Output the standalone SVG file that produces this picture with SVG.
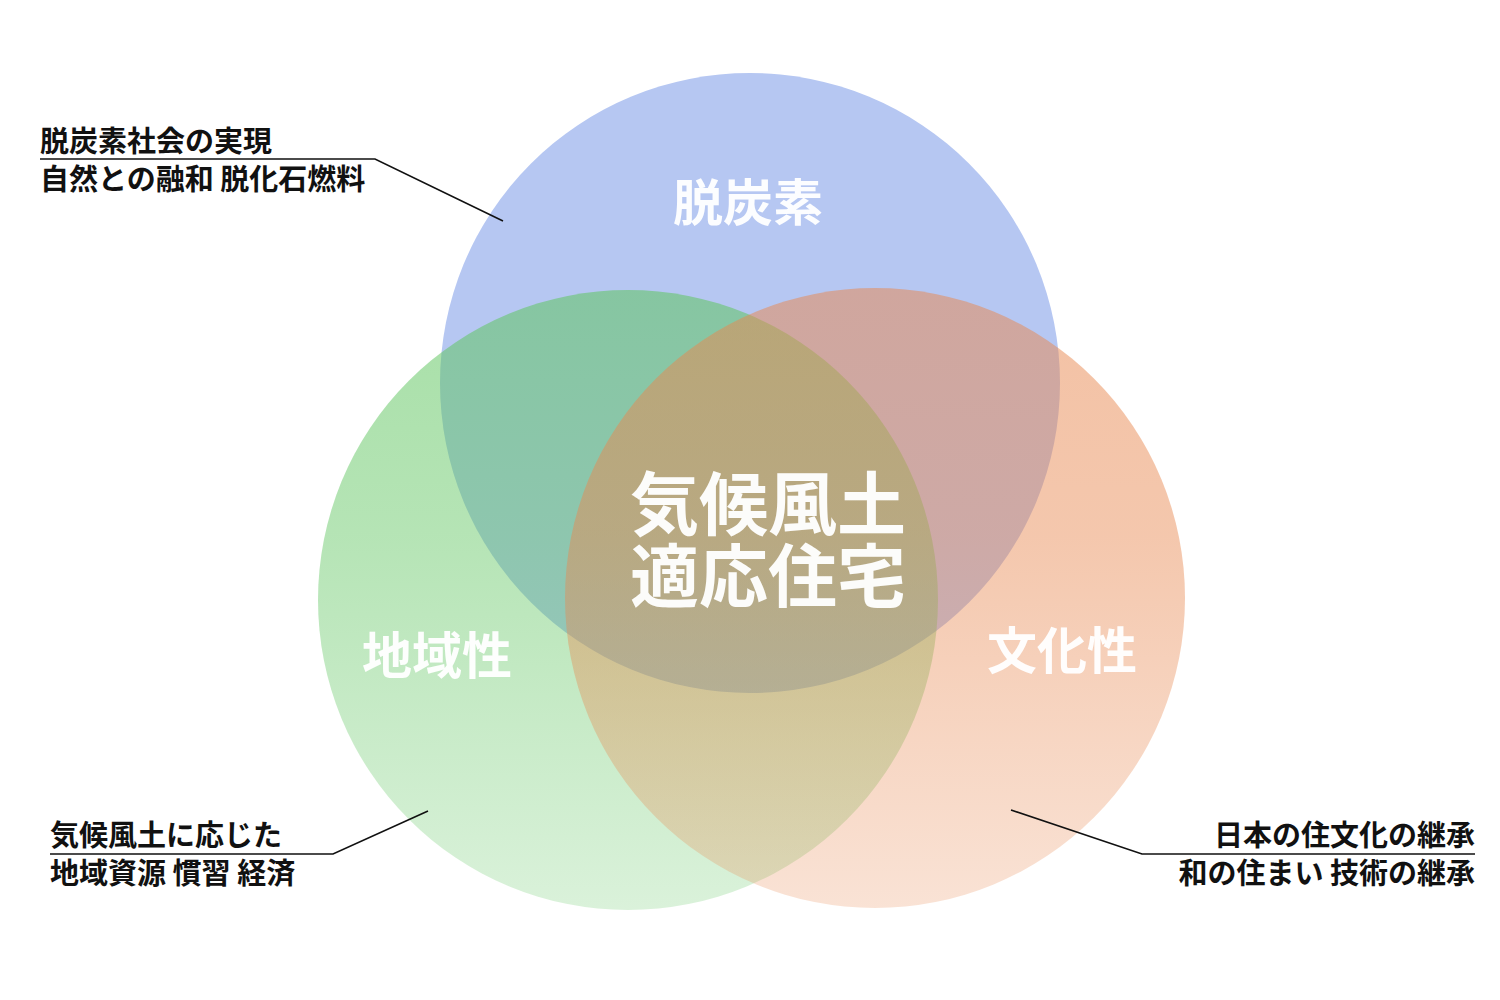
<svg xmlns="http://www.w3.org/2000/svg" width="1500" height="1000" viewBox="0 0 1500 1000">
  <defs>
    <linearGradient id="gGreen" x1="0" y1="0" x2="0" y2="1">
      <stop offset="0" stop-color="#5fc55f" stop-opacity="0.55"/>
      <stop offset="0.4" stop-color="#5fc55f" stop-opacity="0.46"/>
      <stop offset="1" stop-color="#5fc55f" stop-opacity="0.23"/>
    </linearGradient>
    <linearGradient id="gOrange" x1="0" y1="0" x2="0" y2="1">
      <stop offset="0" stop-color="#e88850" stop-opacity="0.52"/>
      <stop offset="0.4" stop-color="#e88850" stop-opacity="0.47"/>
      <stop offset="1" stop-color="#e88850" stop-opacity="0.24"/>
    </linearGradient>
    <style>
      .lbl { font-family: "Noto Sans CJK JP", "Noto Sans", sans-serif; font-weight: 700; fill: #ffffff; fill-opacity: 0.96; }
      .note { font-family: "Noto Sans CJK JP", "Noto Sans", sans-serif; font-weight: 700; font-size: 29px; fill: #111111; }
      .lead { fill: none; stroke: #111111; stroke-width: 1.6; }
    </style>
  </defs>
  <rect width="1500" height="1000" fill="#ffffff"/>

  <g id="circle-decarbonization">
    <circle cx="750" cy="383" r="310" fill="#b6c7f2"/>
  </g>
  <g id="circle-regionality">
    <circle cx="628" cy="600" r="310" fill="url(#gGreen)"/>
  </g>
  <g id="circle-culture">
    <circle cx="875" cy="598" r="310" fill="url(#gOrange)"/>
  </g>

  <g id="label-decarbonization">
    <text class="lbl" x="748" y="221" font-size="50" text-anchor="middle">脱炭素</text>
  </g>
  <g id="label-regionality">
    <text class="lbl" x="437" y="674" font-size="50" text-anchor="middle">地域性</text>
  </g>
  <g id="label-culture">
    <text class="lbl" x="1062" y="669" font-size="50" text-anchor="middle">文化性</text>
  </g>
  <g id="label-center">
    <text class="lbl" font-size="69" text-anchor="middle"><tspan x="768" y="530">気候風土</tspan><tspan x="768" y="602">適応住宅</tspan></text>
  </g>

  <g id="connectors">
    <polyline class="lead" points="40,159 375,159 503,221"/>
    <polyline class="lead" points="50,854 333,854 428,811"/>
    <polyline class="lead" points="1475,854 1142,854 1011,810"/>
  </g>

  <g id="note-decarbonization">
    <text class="note" x="40" y="152">脱炭素社会の実現</text>
    <text class="note" x="40" y="190">自然との融和 脱化石燃料</text>
  </g>
  <g id="note-regionality">
    <text class="note" x="50" y="846">気候風土に応じた</text>
    <text class="note" x="50" y="884">地域資源 慣習 経済</text>
  </g>
  <g id="note-culture">
    <text class="note" x="1475" y="846" text-anchor="end">日本の住文化の継承</text>
    <text class="note" x="1475" y="884" text-anchor="end">和の住まい 技術の継承</text>
  </g>
</svg>
